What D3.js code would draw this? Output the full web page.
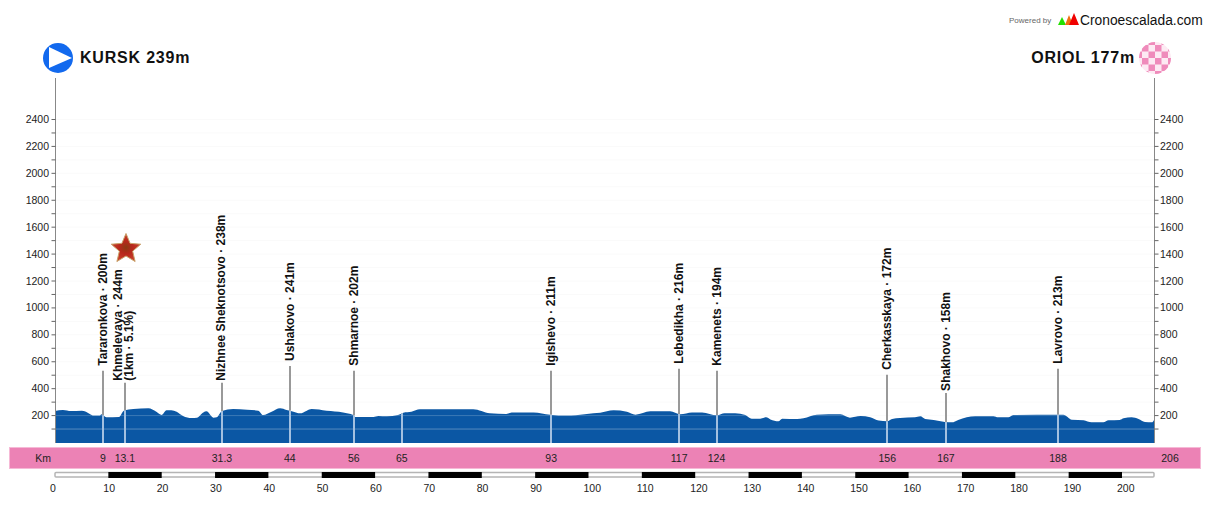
<!DOCTYPE html>
<html lang="en">
<head>
<meta charset="UTF-8">
<title>Kursk - Oriol profile</title>
<script src="https://d3js.org/d3.v7.min.js"></script>
<style>
  html, body { margin: 0; padding: 0; background: #fff; }
  svg { display: block; }
  text { font-family: "Liberation Sans", Arial, sans-serif; }
</style>
</head>
<body>
<div id="chart"></div>
<script>
// profile
const profileKm = [0,1.5,3,5,5.8,6.6,7.2,8.3,8.75,9.6,12,12.9,14.7,17.5,19,20,20.9,21.8,22.8,24,25.6,26.6,27.8,28.4,29.7,30.3,31.3,33.4,36,38.1,39,40.6,42.2,43.4,44.7,45.9,47.2,48.1,50.9,54,55.9,56.2,59.7,60.6,62.2,64.3,65.3,66.8,68.4,78.4,81.5,84.6,85.6,89.7,92.8,95.9,99.3,100.9,102.2,104.7,107.2,108.8,111.6,115.3,117.2,119.4,121.3,124.1,125.5,127.5,129.4,130.6,132.2,133.3,134.1,135.6,136.3,139.1,140.3,142.8,147.2,149,151,152.8,154.4,156,156.9,158.4,161.2,162.2,163.1,164.7,166.8,168.1,169.3,172.5,175.9,176.8,178.7,179.6,188,189,190.6,192.8,194.3,196.5,197.5,199.6,200.3,201.8,203.1,204.3,205.6,206];
const profileElev = [230,238,230,233,225,206,196,196,206,183,186,233,245,250,225,201,235,235,225,193,178,181,220,228,181,183,230,245,240,233,201,225,250,238,225,213,233,245,233,220,201,186,186,193,191,201,218,225,243,243,213,208,220,220,203,196,206,213,218,235,225,203,228,228,206,220,220,198,213,213,201,173,173,183,168,154,173,171,176,203,206,181,193,183,159,154,171,178,183,191,171,164,149,146,164,191,191,183,183,201,203,203,166,161,146,146,161,164,176,183,171,149,146,164];

const stopKm = [9,13.1,31.3,44,56,65,93,117,124,156,167,188];
const stopKmLabels = ["9","13.1","31.3","44","56","65","93","117","124","156","167","188"];
const stopNames = ["Tararonkova · 200m","Khmelevaya · 244m","Nizhnee Sheknotsovo · 238m","Ushakovo · 241m","Shmarnoe · 202m","","Igishevo · 211m","Lebedikha · 216m","Kamenets · 194m","Cherkasskaya · 172m","Shakhovo · 158m","Lavrovo · 213m"];
// height in metres the stem reaches on the elevation scale
const stopTop = [530,440,440,565,530,200,530,545,530,500,365,545];

const yTicks = d3.range(100, 2500, 100);
const xTicks = d3.range(0, 210, 10);
const totalKm = 206;

const width = 1214, height = 507;
const svg = d3.select("#chart").append("svg").attr("width", width).attr("height", height);

const x = d3.scaleLinear().domain([0, totalKm]).range([55, 1154]);
const y = d3.scaleLinear().domain([0, 2400]).range([442, 119]);
const elevAt = d3.scaleLinear().domain(profileKm).range(profileElev);
const plotBottom = 443;

// faint grid
svg.append("g").selectAll("line").data(yTicks).join("line")
  .attr("x1", x(0)).attr("x2", x(totalKm))
  .attr("y1", d => y(d) + 0.5).attr("y2", d => y(d) + 0.5)
  .attr("stroke", "#fafafa");

// profile
const area = d3.area().x((d, i) => x(profileKm[i])).y0(plotBottom).y1(d => y(d)).curve(d3.curveMonotoneX);
svg.append("path").datum(profileElev).attr("d", area).attr("fill", "#0b57a4");

// pale lines across the fill
svg.append("g").selectAll("line").data([100, 200]).join("line")
  .attr("x1", x(0)).attr("x2", x(totalKm))
  .attr("y1", d => y(d) + 0.5).attr("y2", d => y(d) + 0.5)
  .attr("stroke", "#fff").attr("stroke-opacity", d => d === 100 ? 0.3 : 0.2);

// stems
const stems = svg.append("g");
stopKm.forEach((km, i) => {
  const px = Math.round(x(km));
  const surface = y(elevAt(km));
  stems.append("line").attr("x1", px).attr("x2", px)
    .attr("y1", y(stopTop[i])).attr("y2", surface)
    .attr("stroke", "#999").attr("stroke-width", 2);
  stems.append("line").attr("x1", px).attr("x2", px)
    .attr("y1", surface).attr("y2", plotBottom)
    .attr("stroke", "#a3c0e0").attr("stroke-width", 2);
});

// stop names
stopKm.forEach((km, i) => {
  if (!stopNames[i]) return;
  const shift = i === 1 ? -7 : i === 2 ? -1 : 0;
  const gap = (i === 1 || i === 2 || i === 10) ? 2 : 5;
  const lx = x(km) + shift + 4, ly = y(stopTop[i]) - gap;
  svg.append("text").attr("transform", `translate(${lx},${ly}) rotate(-90)`)
    .attr("font-size", 12).attr("font-weight", "bold").attr("fill", "#111")
    .text(stopNames[i]);
  if (i === 1) {
    svg.append("text").attr("transform", `translate(${lx + 11},${ly}) rotate(-90)`)
      .attr("font-size", 12).attr("font-weight", "bold").attr("fill", "#111")
      .text("(1km · 5.1%)");
  }
});

// side axes
[[x(0), -1, "end"], [x(totalKm), 1, "start"]].forEach(([ax, dir, anchor]) => {
  const g = svg.append("g");
  g.append("line").attr("x1", ax + 0.5).attr("x2", ax + 0.5).attr("y1", 78).attr("y2", plotBottom)
    .attr("stroke", "#888").attr("stroke-width", 1);
  g.selectAll("line.tick").data(yTicks).join("line").attr("class", "tick")
    .attr("x1", ax + 0.5).attr("x2", ax + 0.5 + dir * 4)
    .attr("y1", d => y(d) + 0.5).attr("y2", d => y(d) + 0.5)
    .attr("stroke", "#666");
  g.selectAll("text").data(yTicks.filter(d => d % 200 === 0)).join("text")
    .attr("x", ax + dir * 6).attr("y", d => y(d) + 4)
    .attr("text-anchor", anchor).attr("font-size", 10.5).attr("fill", "#222")
    .text(d => d);
});

// pink km strip
svg.append("rect").attr("x", 9.5).attr("y", 447.5).attr("width", 1191).attr("height", 21)
  .attr("fill", "#ec82b5").attr("stroke", "#f6b9d6");
svg.append("text").attr("x", 43).attr("y", 462).attr("text-anchor", "middle")
  .attr("font-size", 10.5).attr("fill", "#222").text("Km");
svg.append("g").selectAll("text").data(stopKm).join("text")
  .attr("x", d => x(d)).attr("y", 462).attr("text-anchor", "middle")
  .attr("font-size", 10.5).attr("fill", "#222")
  .text((d, i) => stopKmLabels[i]);
svg.append("text").attr("x", 1170).attr("y", 462).attr("text-anchor", "middle")
  .attr("font-size", 10.5).attr("fill", "#222").text(totalKm);

// distance bar
svg.append("rect").attr("x", x(0)).attr("y", 472.5).attr("width", x(totalKm) - x(0)).attr("height", 4.5)
  .attr("fill", "#fff").attr("stroke", "#b5b5b5").attr("stroke-width", 1.5).attr("rx", 1);
svg.append("g").selectAll("rect").data(xTicks.filter(d => d % 20 === 10)).join("rect")
  .attr("x", d => x(d)).attr("y", 472)
  .attr("width", d => x(d + 10) - x(d)).attr("height", 6).attr("fill", "#000");
svg.append("g").selectAll("text").data(xTicks).join("text")
  .attr("x", d => x(d) - 5).attr("y", 492).attr("text-anchor", "start")
  .attr("font-size", 10.5).attr("fill", "#222").text(d => d);

// start badge
const sb = svg.append("g").attr("transform", "translate(58,58)");
sb.append("circle").attr("r", 15).attr("fill", "#1269ee");
sb.append("path").attr("d", "M-9,-11L14,0L-9,10Z").attr("fill", "#fff");
svg.append("text").attr("x", 80).attr("y", 63).attr("font-size", 16).attr("font-weight", "bold")
  .attr("letter-spacing", 0.8).attr("fill", "#111").text("KURSK 239m");

// finish badge
const cx = 1155, cy = 58, cell = 6.5;
const clip = svg.append("clipPath").attr("id", "fin");
clip.append("circle").attr("cx", cx).attr("cy", cy).attr("r", 16);
const fin = svg.append("g").attr("clip-path", "url(#fin)");
fin.append("rect").attr("x", cx - 16).attr("y", cy - 16).attr("width", 32).attr("height", 32).attr("fill", "#fdeaf3");
d3.range(-3, 3).forEach(r => d3.range(-3, 3).forEach(c => {
  if ((r + c + 6) % 2 === 0) {
    fin.append("rect").attr("x", cx + c * cell).attr("y", cy + r * cell)
      .attr("width", cell).attr("height", cell).attr("fill", "#ef8bbb");
  }
}));
svg.append("text").attr("x", 1135).attr("y", 63).attr("text-anchor", "end").attr("font-size", 16)
  .attr("font-weight", "bold").attr("letter-spacing", 0.8).attr("fill", "#111").text("ORIOL 177m");

// brand
svg.append("text").attr("x", 1009).attr("y", 23).attr("font-size", 8).attr("fill", "#666").text("Powered by");
[["#22e000", 1058, 1066, 17], ["#f07010", 1065, 1073, 15], ["#f00000", 1069, 1079, 13]].forEach(([c, x0, x1, top]) => {
  svg.append("path").attr("d", `M${x0},25L${(x0 + x1) / 2},${top}L${x1},25Z`).attr("fill", c);
});
svg.append("text").attr("x", 1080).attr("y", 25).attr("font-size", 13.8).attr("fill", "#111").text("Cronoescalada.com");

// star over the climb
const grad = svg.append("defs").append("radialGradient").attr("id", "starFill");
grad.append("stop").attr("offset", "0%").attr("stop-color", "#8a3a12");
grad.append("stop").attr("offset", "45%").attr("stop-color", "#b8281c");
grad.append("stop").attr("offset", "100%").attr("stop-color", "#c8402c");
const starPts = d3.range(10).map(i => {
  const r = i % 2 ? 7 : 15.5;
  return [r * Math.sin(i * Math.PI / 5), -r * Math.cos(i * Math.PI / 5)];
});
svg.append("path").attr("transform", "translate(126,249)")
  .attr("d", d3.line()(starPts) + "Z").attr("fill", "url(#starFill)")
  .attr("stroke", "#c9a26a").attr("stroke-width", 1);
</script>
</body>
</html>
